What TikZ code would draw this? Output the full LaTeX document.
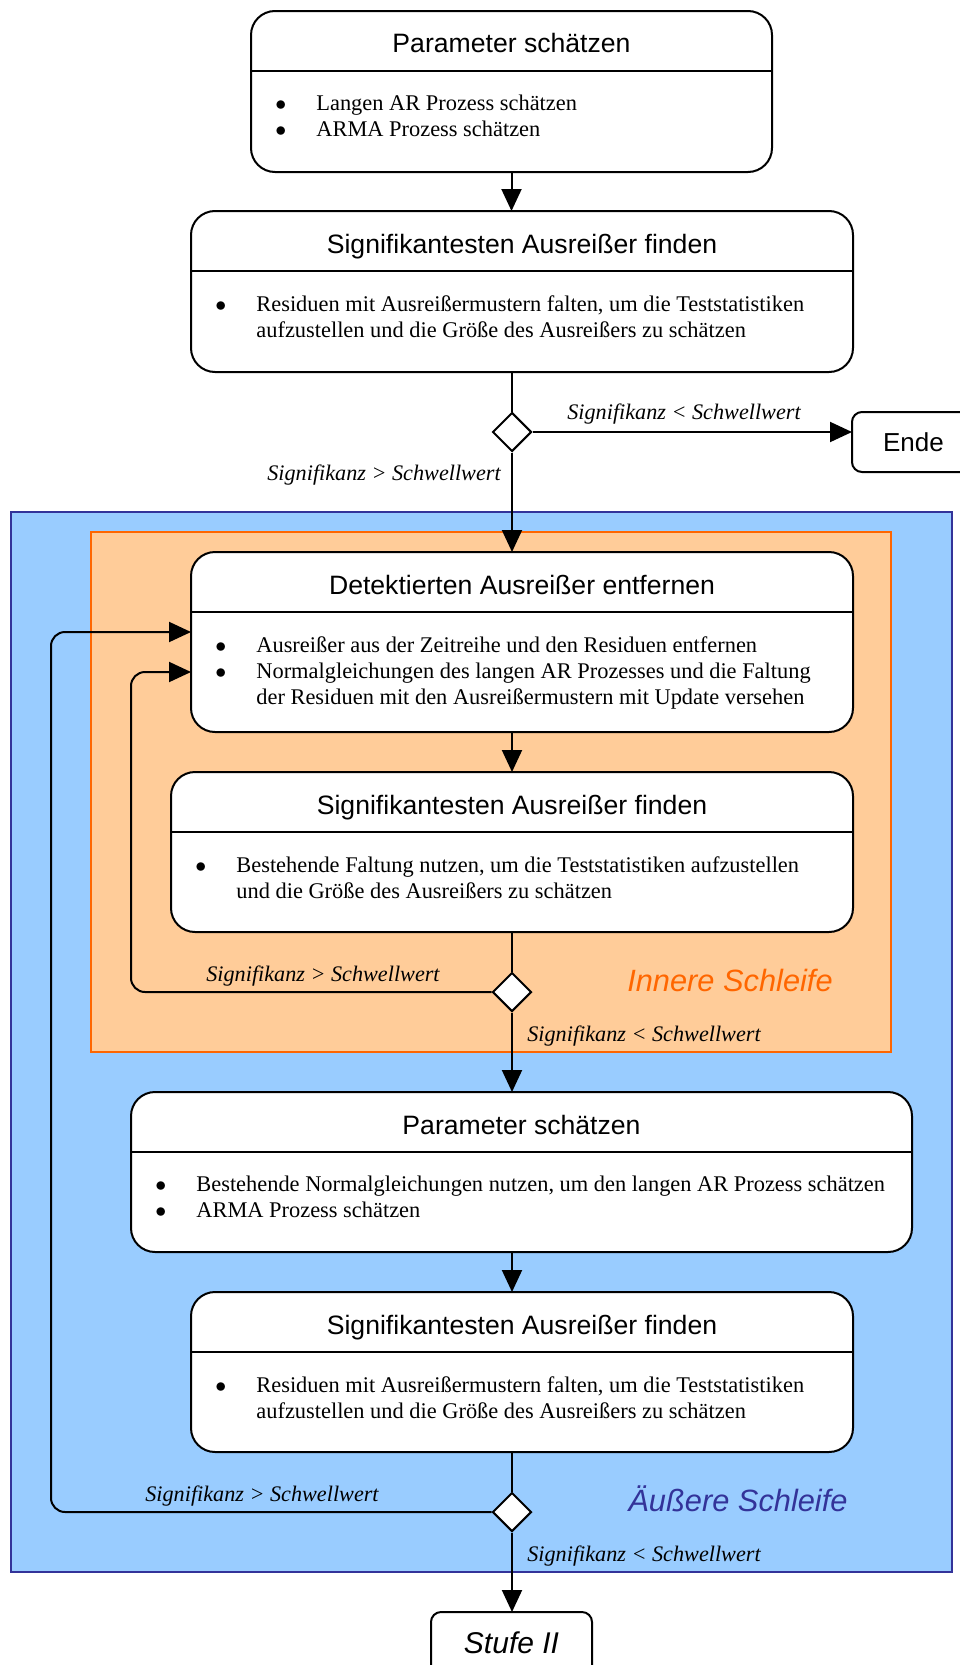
\documentclass[tikz,border=0pt]{standalone}
\usepackage{fontspec}
\setmainfont{Liberation Serif}
\newfontfamily\headfont{Liberation Sans}
\usetikzlibrary{shapes.geometric,arrows.meta,positioning}
\definecolor{outerblue}{HTML}{99CCFF}
\definecolor{outerline}{HTML}{333399}
\definecolor{innerorange}{HTML}{FFCC99}
\definecolor{innerline}{HTML}{FF6600}
\newcommand{\bullitem}{\makebox[20.5pt][l]{$\bullet$}}
\newcommand{\contline}{\hspace*{20.5pt}}

\begin{document}
\begin{tikzpicture}[x=0.5pt,y=-0.5pt,
      every node/.append style={inner sep=0pt},
      act/.style={draw,rounded corners=12pt,line width=1pt,fill=white,outer sep=0pt},
      hd/.style={anchor=base,font=\headfont\fontsize{13.3}{16}\selectfont},
      bd/.style={anchor=north west,align=left,font=\fontsize{11.2}{13}\selectfont},
      dec/.style={draw,diamond,fill=white,line width=1pt,minimum width=19.5pt,minimum height=19.5pt},
      cond/.style={anchor=base,font=\itshape\fontsize{11.1}{13}\selectfont},
      loopname/.style={anchor=base,font=\headfont\itshape\fontsize{15.4}{18}\selectfont},
      flow/.style={-{Triangle[length=11pt,width=10pt]},line width=1pt},
      sep/.style={line width=0.7pt}]
    \useasboundingbox (0,0) rectangle (959,1665);
    \draw[fill=outerblue,draw=outerline,line width=0.8pt] (11,512) rectangle (952,1572);
    \draw[fill=innerorange,draw=innerline,line width=0.8pt] (91,532) rectangle (891,1052);

    \node[act,minimum width=260.5pt,minimum height=80.5pt] (p1) at (511.5,91.5) {};
    \node[hd] (p1t) at ([yshift=-21pt]p1.north) {Parameter schätzen};
    \node[bd] (p1b) at ([xshift=12pt,yshift=-42pt]p1.north west)
      {\bullitem Langen AR Prozess schätzen\\ \bullitem ARMA Prozess schätzen};
    \draw[sep] ([yshift=-30pt]p1.north west) -- ([yshift=-30pt]p1.north east);

    \node[act,minimum width=331pt,minimum height=80.5pt] (s1) at (522,291.5) {};
    \node[hd] (s1t) at ([yshift=-21pt]s1.north) {Signifikantesten Ausreißer finden};
    \node[bd] (s1b) at ([xshift=12pt,yshift=-42pt]s1.north west)
      {\bullitem Residuen mit Ausreißermustern falten, um die Teststatistiken\\
       \contline aufzustellen und die Größe des Ausreißers zu schätzen};
    \draw[sep] ([yshift=-30pt]s1.north west) -- ([yshift=-30pt]s1.north east);

    \node[dec] (d1) at (512,432) {};
    \node[act,rounded corners=5pt,minimum width=61.5pt,minimum height=30pt,
      font=\headfont\fontsize{13}{16}\selectfont] (ende) at (913.5,442) {Ende};

    \node[act,minimum width=331pt,minimum height=90pt] (a3) at (522,642) {};
    \node[hd] (a3t) at ([yshift=-21pt]a3.north) {Detektierten Ausreißer entfernen};
    \node[bd] (a3b) at ([xshift=12pt,yshift=-42pt]a3.north west)
      {\bullitem Ausreißer aus der Zeitreihe und den Residuen entfernen\\
       \bullitem Normalgleichungen des langen AR Prozesses und die Faltung\\
       \contline der Residuen mit den Ausreißermustern mit Update versehen};
    \draw[sep] ([yshift=-30pt]a3.north west) -- ([yshift=-30pt]a3.north east);

    \node[act,minimum width=341pt,minimum height=80pt] (s2) at (512,852) {};
    \node[hd] (s2t) at ([yshift=-21pt]s2.north) {Signifikantesten Ausreißer finden};
    \node[bd] (s2b) at ([xshift=12pt,yshift=-42pt]s2.north west)
      {\bullitem Bestehende Faltung nutzen, um die Teststatistiken aufzustellen\\
       \contline und die Größe des Ausreißers zu schätzen};
    \draw[sep] ([yshift=-30pt]s2.north west) -- ([yshift=-30pt]s2.north east);

    \node[dec] (d2) at (512,992) {};

    \node[act,minimum width=390.5pt,minimum height=80pt] (p2) at (521.5,1172) {};
    \node[hd] (p2t) at ([yshift=-21pt]p2.north) {Parameter schätzen};
    \node[bd] (p2b) at ([xshift=12pt,yshift=-42pt]p2.north west)
      {\bullitem Bestehende Normalgleichungen nutzen, um den langen AR Prozess schätzen\\
       \bullitem ARMA Prozess schätzen};
    \draw[sep] ([yshift=-30pt]p2.north west) -- ([yshift=-30pt]p2.north east);

    \node[act,minimum width=331pt,minimum height=80pt] (s3) at (522,1372) {};
    \node[hd] (s3t) at ([yshift=-21pt]s3.north) {Signifikantesten Ausreißer finden};
    \node[bd] (s3b) at ([xshift=12pt,yshift=-42pt]s3.north west)
      {\bullitem Residuen mit Ausreißermustern falten, um die Teststatistiken\\
       \contline aufzustellen und die Größe des Ausreißers zu schätzen};
    \draw[sep] ([yshift=-30pt]s3.north west) -- ([yshift=-30pt]s3.north east);

    \node[dec] (d3) at (512,1512) {};
    \node[act,rounded corners=5pt,anchor=north,minimum width=80.5pt,text height=20.5pt,text depth=30pt,
      font=\headfont\itshape\fontsize{15}{18}\selectfont] (stufe) at (511.5,1612) {Stufe II};

    \node[cond] (l1) at (684,419) {Signifikanz < Schwellwert};
    \node[cond] (l2) at (384,480) {Signifikanz > Schwellwert};
    \node[cond] (l3) at (323,981) {Signifikanz > Schwellwert};
    \node[cond] (l4) at (644,1041) {Signifikanz < Schwellwert};
    \node[cond] (l5) at (262,1501) {Signifikanz > Schwellwert};
    \node[cond] (l6) at (644,1561) {Signifikanz < Schwellwert};
    \node[loopname,text=innerline] (inner) at (730,991) {Innere Schleife};
    \node[loopname,text=outerline] (outer) at (738,1511) {Äußere Schleife};

    \coordinate (inl) at (131,672);
    \coordinate (outl) at (51,632);
    \coordinate (in1) at (a3.west |- outl);
    \coordinate (in2) at (a3.west |- inl);

    \draw[flow] (p1) -- (p1 |- s1.north);
    \draw[line width=1pt] (d1 |- s1.south) -- (d1);
    \draw[flow] (d1) -- (d1 -| ende.west);
    \draw[flow] (d1) -- (d1 |- a3.north);
    \draw[flow] (s2 |- a3.south) -- (s2);
    \draw[line width=1pt] (s2) -- (d2);
    \draw[flow] (d2) -- (d2 |- p2.north);
    \draw[flow] (d2 |- p2.south) -- (d2 |- s3.north);
    \draw[line width=1pt] (d3 |- s3.south) -- (d3);
    \draw[flow] (d3) -- (d3 |- stufe.north);
    \draw[flow,rounded corners=7pt] (d2) -| (inl) -- (in2);
    \draw[flow,rounded corners=7pt] (d3) -| (outl) -- (in1);
  \end{tikzpicture}
\end{document}
